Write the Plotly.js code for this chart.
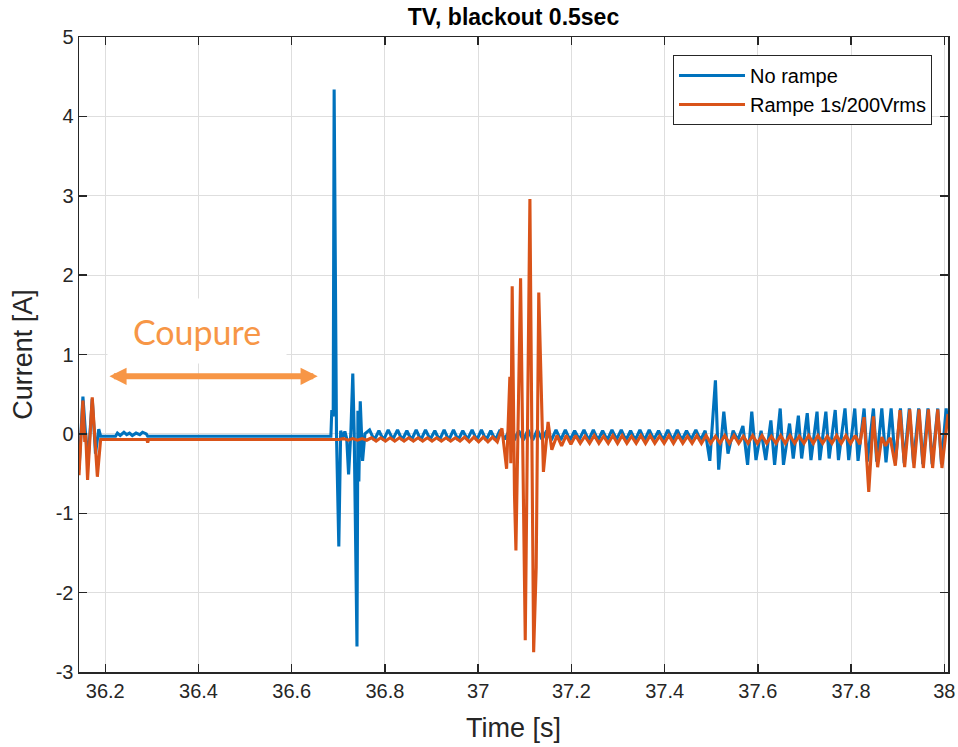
<!DOCTYPE html>
<html>
<head>
<meta charset="utf-8">
<script src="https://cdn.plot.ly/plotly-3.0.1.min.js"></script>
<style>
html,body{margin:0;padding:0;background:#fff;}
#chart{width:958px;height:747px;}
</style>
</head>
<body>
<div id="chart"></div>
<script>
// ---------- axis ticks ----------
const xTickVals = [36.2, 36.4, 36.6, 36.8, 37, 37.2, 37.4, 37.6, 37.8, 38];
const xTickText = ["36.2", "36.4", "36.6", "36.8", "37", "37.2", "37.4", "37.6", "37.8", "38"];
const yTickVals = [-3, -2, -1, 0, 1, 2, 3, 4, 5];
const yTickText = ["-3", "-2", "-1", "0", "1", "2", "3", "4", "5"];

// ---------- series names ----------
const seriesNames = ["No rampe", "Rampe 1s/200Vrms"];

// ---------- "No rampe" (blue) ----------
const blueStartT = [36.1436, 36.152, 36.157, 36.163, 36.172, 36.179, 36.186, 36.190];
const blueStartY = [-0.45, 0.47, 0.05, -0.35, 0.44, -0.25, 0.06, -0.03];

const blueFlatT = [36.222, 36.226, 36.232, 36.240, 36.246, 36.252, 36.258, 36.266, 36.274, 36.280, 36.288, 36.291, 36.684];
const blueFlatY = [-0.03, 0.01, -0.02, 0.02, -0.01, 0.01, -0.02, 0.01, -0.01, 0.02, 0.00, -0.03, -0.03];

const blueSpikeT = [36.686, 36.689, 36.691, 36.696, 36.701, 36.705, 36.709, 36.714, 36.718, 36.722,
                    36.727, 36.731, 36.734, 36.740, 36.742, 36.744, 36.747, 36.752, 36.757];
const blueSpikeY = [0.30, 0.22, 4.34, 0.00, -1.42, 0.04, -0.05, 0.03, -0.06, -0.51,
                    0.04, 0.76, 0.02, -2.68, 0.29, -0.60, 0.41, -0.34, 0.00];

const blueRippleT = [
  36.767,36.777,36.787,36.797,36.807,36.817,36.827,36.837,36.847,36.857,
  36.867,36.877,36.887,36.897,36.907,36.917,36.927,36.937,36.947,36.957,
  36.967,36.977,36.987,36.997,37.007,37.017,37.027,37.037,37.047,37.057,
  37.067,37.077,37.087,37.097,37.107,37.117,37.127,37.137,37.147,37.157,
  37.167,37.177,37.187,37.197,37.207,37.217,37.227,37.237,37.247,37.257,
  37.267,37.277,37.287,37.297,37.307,37.317,37.327,37.337,37.347,37.357,
  37.367,37.377,37.387,37.397,37.407,37.417,37.427,37.437,37.447,37.457,
  37.467,37.477,37.487];
const blueRippleY = [
  0.05,-0.08,0.04,-0.08,0.05,-0.07,0.05,-0.08,0.04,-0.08,
  0.05,-0.08,0.05,-0.07,0.04,-0.08,0.05,-0.08,0.05,-0.08,
  0.04,-0.07,0.05,-0.08,0.05,-0.08,0.04,-0.08,0.05,-0.07,
  0.05,-0.08,0.04,-0.08,0.05,-0.08,0.05,-0.07,0.04,-0.08,
  0.05,-0.08,0.05,-0.08,0.04,-0.07,0.05,-0.08,0.05,-0.08,
  0.04,-0.08,0.05,-0.07,0.05,-0.08,0.04,-0.08,0.05,-0.08,
  0.05,-0.07,0.04,-0.08,0.05,-0.08,0.05,-0.08,0.04,-0.07,
  0.05,-0.08,0.04];

const blueEndT = [
  37.497,37.509,37.516,37.527,37.536,37.547,37.557,37.568,37.578,37.587,
  37.596,37.607,37.617,37.628,37.636,37.648,37.655,37.668,37.676,37.687,
  37.694,37.706,37.714,37.727,37.733,37.746,37.753,37.766,37.773,37.787,
  37.795,37.808,37.815,37.828,37.835,37.848,37.855,37.866,37.875,37.886,
  37.895,37.906,37.914,37.925,37.934,37.945,37.954,37.965,37.974,37.986,
  37.994,38.004,38.008];
const blueEndY = [
  -0.34,0.675,-0.45,0.28,-0.25,0.04,-0.08,0.10,-0.39,0.28,
  -0.33,0.04,-0.33,0.17,-0.39,0.32,-0.39,0.13,-0.31,0.23,
  -0.31,0.26,-0.33,0.28,-0.33,0.28,-0.31,0.30,-0.33,0.32,
  -0.33,0.32,-0.34,0.32,-0.35,0.32,-0.35,0.32,-0.36,0.32,
  -0.36,0.32,-0.37,0.32,-0.37,0.32,-0.38,0.32,-0.38,0.32,
  -0.38,0.32,0.10];

// ---------- "Rampe 1s/200Vrms" (orange) ----------
const orangeStartT = [36.1436, 36.152, 36.156, 36.158, 36.162, 36.172, 36.183, 36.190];
const orangeStartY = [-0.52, 0.42, -0.10, 0.00, -0.58, 0.46, -0.54, -0.07];

const orangeFlatT = [36.289, 36.291, 36.293];
const orangeFlatY = [-0.07, -0.11, -0.07];

const orangeRipple1T = [
  36.701,36.711,36.721,36.731,36.741,36.751,36.761,36.771,36.781,36.791,
  36.801,36.811,36.821,36.831,36.841,36.851,36.861,36.871,36.881,36.891,
  36.901,36.911,36.921,36.931,36.941,36.951,36.961,36.971,36.981,36.991,
  37.001,37.011,37.021,37.031,37.041];
const orangeRipple1Y = [
  -0.07,-0.06,-0.08,-0.06,-0.08,-0.06,-0.08,-0.05,-0.09,-0.05,
  -0.09,-0.05,-0.09,-0.05,-0.09,-0.05,-0.09,-0.05,-0.09,-0.05,
  -0.09,-0.05,-0.09,-0.05,-0.09,-0.05,-0.09,-0.04,-0.10,-0.04,
  -0.10,-0.04,-0.10,-0.04,-0.10];

const orangeBurstT = [37.051, 37.061, 37.068, 37.070, 37.073, 37.078, 37.081, 37.091,
                      37.101, 37.111, 37.119, 37.1245, 37.130, 37.140, 37.150, 37.158];
const orangeBurstY = [0.07, -0.44, 0.72, -0.37, 1.86, -0.79, -1.47, 1.96,
                      -2.60, 2.96, -2.75, -1.68, 1.78, -0.48, 0.15, -0.20];

const orangeRipple2T = [
  37.169,37.179,37.189,37.199,37.209,37.219,37.229,37.239,37.249,37.259,
  37.269,37.279,37.289,37.299,37.309,37.319,37.329,37.339,37.349,37.359,
  37.369,37.379,37.389,37.399,37.409,37.419,37.429,37.439,37.449,37.459,
  37.469,37.479,37.489,37.499,37.509,37.519,37.529,37.539,37.549,37.559,
  37.569,37.579,37.589,37.599,37.609,37.619,37.629,37.639,37.649,37.659,
  37.669,37.679,37.689,37.699,37.709,37.719,37.729,37.739,37.749,37.759,
  37.769,37.779,37.789,37.799,37.809,37.819];
const orangeRipple2Y = [
  -0.02,-0.15,-0.02,-0.13,-0.02,-0.12,-0.03,-0.12,-0.02,-0.12,
  -0.03,-0.12,-0.02,-0.12,-0.02,-0.12,-0.03,-0.12,-0.02,-0.12,
  -0.02,-0.12,-0.03,-0.12,-0.02,-0.12,-0.02,-0.12,-0.03,-0.12,
  -0.02,-0.12,-0.02,-0.12,-0.03,-0.12,-0.02,-0.12,-0.02,-0.12,
  -0.03,-0.12,-0.02,-0.12,-0.02,-0.12,-0.03,-0.12,-0.02,-0.12,
  -0.02,-0.12,-0.03,-0.12,-0.02,-0.12,-0.02,-0.12,-0.03,-0.12,
  -0.02,-0.12,-0.02,-0.12,-0.02,-0.13];

const orangeEndT = [37.828, 37.838, 37.848, 37.857, 37.866, 37.874, 37.884, 37.895, 37.905, 37.915,
                    37.926, 37.935, 37.946, 37.955, 37.966, 37.975, 37.986, 37.995, 38.008];
const orangeEndY = [0.21, -0.73, 0.22, -0.42, -0.04, -0.15, -0.05, -0.40, 0.30, -0.42,
                    0.31, -0.43, 0.31, -0.43, 0.31, -0.43, 0.31, -0.43, 0.25];

// ---------- annotation content ----------
const coupureText = "Coupure";
const coupurePos = [36.3964, 1.29];
const coupureArrow = [36.2057, 36.6557, 0.725];

// ---------- assemble ----------
const blueT = [].concat(blueStartT, blueFlatT, blueSpikeT, blueRippleT, blueEndT);
const blueY = [].concat(blueStartY, blueFlatY, blueSpikeY, blueRippleY, blueEndY);
const orangeT = [].concat(orangeStartT, orangeFlatT, orangeRipple1T, orangeBurstT, orangeRipple2T, orangeEndT);
const orangeY = [].concat(orangeStartY, orangeFlatY, orangeRipple1Y, orangeBurstY, orangeRipple2Y, orangeEndY);

const FONT = "Liberation Sans, Arial, Helvetica, sans-serif";
const AX = "#262626";

const traces = [
  {x: blueT, y: blueY, type: "scatter", mode: "lines", name: seriesNames[0],
   line: {color: "#0072BD", width: 3.1}},
  {x: orangeT, y: orangeY, type: "scatter", mode: "lines", name: seriesNames[1],
   line: {color: "#D95319", width: 3.1}}
];

const axisCommon = {
  showline: true, linecolor: AX, linewidth: 1.5, mirror: "allticks",
  ticks: "inside", ticklen: 8, tickwidth: 1.5, tickcolor: AX,
  showgrid: true, gridcolor: "#DEDEDE", gridwidth: 1, zeroline: false,
  tickfont: {family: FONT, size: 20, color: AX}
};

const layout = {
  width: 958, height: 747,
  margin: {l: 79, r: 10, t: 37, b: 75, pad: 0},
  paper_bgcolor: "#fff", plot_bgcolor: "#fff",
  font: {family: FONT, color: AX},
  title: {text: "<b>TV, blackout 0.5sec</b>", font: {family: FONT, size: 23, color: "#000"},
          xref: "paper", x: 0.5, xanchor: "center", yref: "container", y: 0.977, yanchor: "middle"},
  xaxis: Object.assign({}, axisCommon, {
    range: [36.1436, 38.008], tickmode: "array", tickvals: xTickVals, ticktext: xTickText,
    title: {text: "Time [s]", font: {family: FONT, size: 27, color: AX}, standoff: 17}
  }),
  yaxis: Object.assign({}, axisCommon, {
    range: [-3, 5], tickmode: "array", tickvals: yTickVals, ticktext: yTickText,
    title: {text: "Current [A]", font: {family: FONT, size: 27, color: AX}, standoff: 15}
  }),
  showlegend: true,
  legend: {x: 0.9816, xanchor: "right", y: 0.9717, yanchor: "top",
           bgcolor: "#fff", bordercolor: AX, borderwidth: 1,
           font: {family: FONT, size: 20, color: "#000"}, itemwidth: 66, tracegroupgap: 0},
  annotations: [
    {x: coupurePos[0], y: coupurePos[1], xref: "x", yref: "y", text: coupureText, showarrow: false,
     font: {family: "Lato, Open Sans, sans-serif", size: 34, color: "#F79646"},
     bgcolor: "#fff", width: 176, height: 62, align: "center", valign: "middle"},
    {x: coupureArrow[1], y: coupureArrow[2], ax: coupureArrow[0], ay: coupureArrow[2],
     xref: "x", yref: "y", axref: "x", ayref: "y", text: "", showarrow: true,
     arrowhead: 2, arrowsize: 0.57, arrowwidth: 6, arrowcolor: "#F79646",
     arrowside: "end+start", startarrowhead: 2, startarrowsize: 0.57, standoff: 0, startstandoff: 0}
  ]
};

Plotly.newPlot("chart", traces, layout, {displayModeBar: false, staticPlot: true});
</script>
</body>
</html>
